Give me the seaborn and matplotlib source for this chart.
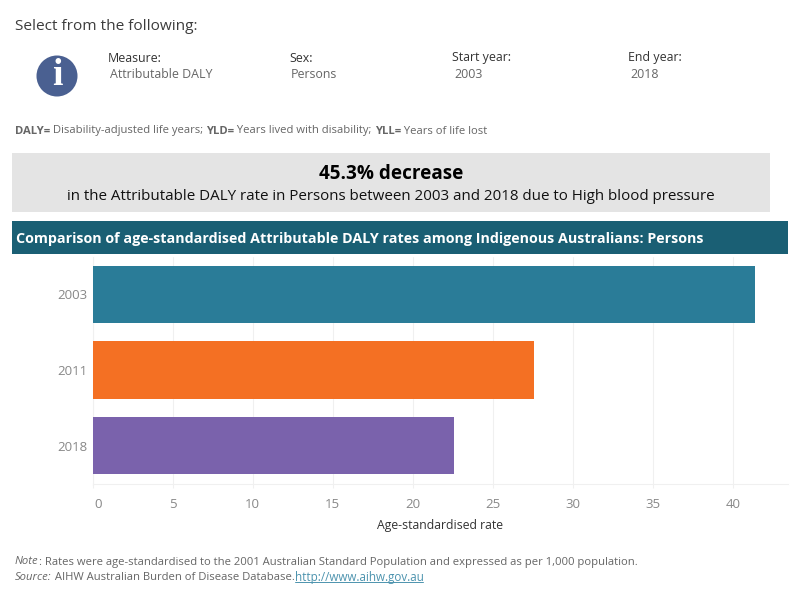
import matplotlib
matplotlib.use("Agg")
import matplotlib.pyplot as plt
from matplotlib.patches import Circle, Rectangle
import pandas as pd
import seaborn as sns

years = ["2003", "2011", "2018"]
rates = [41.4, 27.6, 22.6]
bar_colors = ["#2A7C98", "#F47023", "#7A62AC"]
x_ticks = [0, 5, 10, 15, 20, 25, 30, 35, 40]
filters = [("Measure:", "Attributable DALY", 108),
           ("Sex:", "Persons", 289),
           ("Start year:", "2003", 452),
           ("End year:", "2018", 628)]

sns.set_theme(style="white")
plt.rcParams["font.family"] = ["Open Sans", "DejaVu Sans"]

W, H = 800, 600
fig = plt.figure(figsize=(8, 6), dpi=100, facecolor="white")

# Full-figure layer addressed in pixels, y pointing down
bg = fig.add_axes([0, 0, 1, 1])
bg.set_xlim(0, W)
bg.set_ylim(H, 0)
bg.axis("off")

DARK = "#333333"
GREY = "#666666"
TICK = "#888888"
GRID = "#F0F0F0"

def runs(x, y, parts, size):
    """Draw consecutive text pieces on one baseline, each with its own style."""
    r = fig.canvas.get_renderer()
    for text, style in parts:
        t = bg.text(x, y, text, fontsize=size, va="center", ha="left", **style)
        x += t.get_window_extent(r).width
    return x

bg.text(15, 26, "Select from the following:", fontsize=11.1, color="#3c3c3c", va="center")

bg.add_patch(Circle((57, 76), 20.5, color="#4A6091", lw=0))
bg.text(57, 75.5, "i", fontsize=27, color="white", family="Liberation Serif",
        weight="bold", ha="center", va="center")

for label, value, x in filters:
    bg.text(x, 58, label, fontsize=8.9, color=DARK, va="center")
    bg.text(x + 2, 74, value, fontsize=8.95, color=GREY, va="center")

bold = dict(color=GREY, weight="bold")
norm = dict(color=GREY)
runs(15, 131, [("DALY=", bold), (" Disability-adjusted life years; ", norm),
               ("YLD=", bold), (" Years lived with disability; ", norm),
               ("YLL=", bold), (" Years of life lost", norm)], 8.1)

bg.add_patch(Rectangle((12, 153), 758, 59, color="#E4E4E4", lw=0))
bg.text(391, 174, "45.3% decrease", fontsize=13.6, weight="bold", color="black",
        ha="center", va="center")
bg.text(391, 197, "in the Attributable DALY rate in Persons between 2003 and 2018 due to High blood pressure",
        fontsize=10.9, color="#111111", ha="center", va="center")

bg.add_patch(Rectangle((12, 221), 776, 33, color="#1A5F74", lw=0))
bg.text(16, 238.5, "Comparison of age-standardised Attributable DALY rates among Indigenous Australians: Persons",
        fontsize=10.25, weight="bold", color="white", va="center")

# Bar chart
ax_left, ax_right, ax_top, ax_bottom = 92.7, 788, 256.5, 483.5
ax = fig.add_axes([ax_left / W, 1 - ax_bottom / H,
                   (ax_right - ax_left) / W, (ax_bottom - ax_top) / H])
ax.patch.set_alpha(0)
df = pd.DataFrame({"year": years, "rate": rates})
sns.barplot(data=df, x="rate", y="year", hue="year", palette=bar_colors,
            order=years, hue_order=years, legend=False, width=0.755,
            saturation=1, linewidth=0, edgecolor="none", ax=ax, zorder=3)
ax.set_xlim(0, (ax_right - ax_left) / 16)
ax.set_ylim(2.5, -0.5)
ax.set_xticks(x_ticks)
ax.set_xticklabels([])
for value in x_ticks:
    ax.annotate(str(value), (value, 0), xycoords=("data", "axes fraction"),
                xytext=(1.5 if value == 0 else 0, -15), textcoords="offset points",
                fontsize=9.5, color=TICK, ha="left" if value == 0 else "center", va="center")
ax.set_ylabel("")
ax.set_xlabel("Age-standardised rate", fontsize=8.8, color=DARK)
ax.xaxis.set_label_coords((440 - ax_left) / (ax_right - ax_left), -0.185)
ax.xaxis.label.set_verticalalignment("center")
ax.grid(axis="x", color=GRID, lw=0.75, zorder=0)
ax.tick_params(axis="x", length=3, width=0.75, color=GRID, bottom=True, direction="out")
ax.tick_params(axis="y", length=0, labelsize=9.5, labelcolor=TICK, pad=4)
for side in ("top", "right"):
    ax.spines[side].set_visible(False)
for side in ("left", "bottom"):
    ax.spines[side].set_color(GRID)
    ax.spines[side].set_linewidth(0.75)

ital = dict(color=GREY, style="italic")
runs(15, 562, [("Note", ital), (": Rates were age-standardised to the 2001 Australian Standard Population and expressed as per 1,000 population.", norm)], 8.07)
runs(15, 577, [("Source:", ital), (" AIHW Australian Burden of Disease Database. ", norm)], 8.07)
bg.text(295, 577, "http://www.aihw.gov.au", fontsize=8.35, color="#4C93AE", va="center")
bg.plot([295, 423], [582, 582], color="#4C93AE", lw=0.7)
bg.set_xlim(0, W)
bg.set_ylim(H, 0)

fig.savefig("out.png", dpi=100, facecolor="white")
